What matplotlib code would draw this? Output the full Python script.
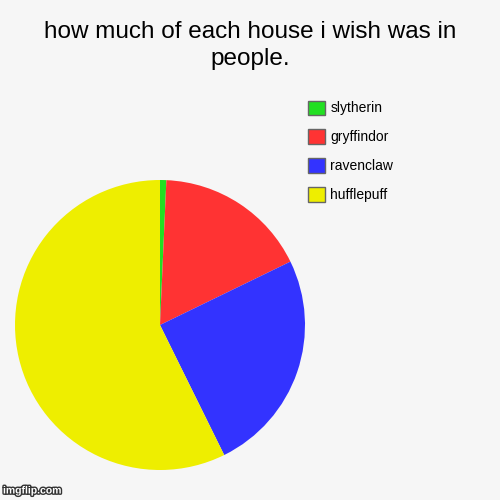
import matplotlib
matplotlib.use("Agg")
import matplotlib.pyplot as plt
from matplotlib.patches import Patch
import matplotlib.patheffects as pe

houses = ["hufflepuff", "ravenclaw", "gryffindor", "slytherin"]
shares = [57.3, 24.9, 17.1, 0.7]
colors = ["#eeee00", "#3333ff", "#ff3333", "#22e022"]

fig = plt.figure(figsize=(5, 5), dpi=100)
fig.patch.set_facecolor("#f6f6f6")

fig.text(0.5, 0.958, "how much of each house i wish was in\npeople.",
         ha="center", va="top", fontsize=17.5, family="Liberation Sans",
         linespacing=1.3)

ax = fig.add_axes([0.03, 0.06, 0.58, 0.58])
ax.set_facecolor("#f6f6f6")
# start at 12 o'clock going clockwise, slytherin first
ax.pie(shares[::-1], colors=colors[::-1], startangle=90, counterclock=False,
       radius=1, wedgeprops={"linewidth": 0})
ax.set_xlim(-1, 1)
ax.set_ylim(-1, 1)
ax.set_aspect("equal")
ax.axis("off")

handles = [Patch(facecolor=c, edgecolor="#666666", linewidth=1) for c in colors[::-1]]
fig.legend(handles, houses[::-1], loc="upper left", bbox_to_anchor=(0.591, 0.824),
           frameon=False, prop={"family": "Liberation Sans", "size": 10},
           handlelength=1.2, handleheight=1.2, handletextpad=0.4, labelspacing=1.02)

fig.text(0.006, 0.013, "imgflip.com", color="white", fontsize=7.5, fontweight="bold",
         family="Liberation Sans",
         path_effects=[pe.withStroke(linewidth=2, foreground="#333333")])

fig.savefig("out.png", dpi=100, facecolor=fig.get_facecolor())
